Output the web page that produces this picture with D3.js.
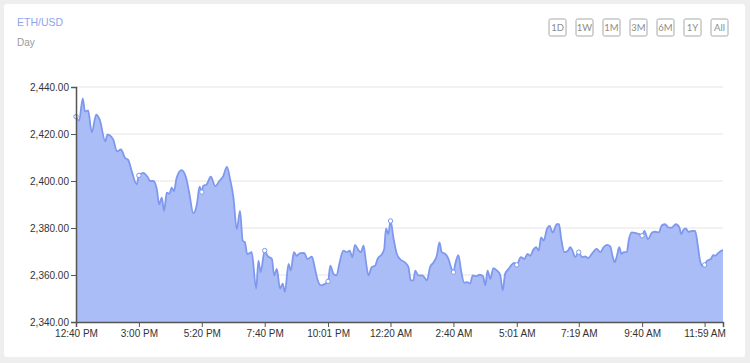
<!DOCTYPE html>
<html>
<head>
<meta charset="utf-8">
<script src="https://cdn.jsdelivr.net/npm/d3@7"></script>
<style>
  body { margin: 0; background: #eeeeee; font-family: "Liberation Sans", Arial, sans-serif; }
</style>
</head>
<body>
<svg id="chart" width="750" height="363"></svg>
<script>
// minutes after 12:40 PM and ETH/USD price at that time
var minutes = [
  0, 7, 15, 20, 27, 35, 45, 53, 65, 70,
  83, 91, 100, 109, 116, 124, 135, 140, 150, 159,
  165, 172, 180, 185, 191, 196, 202, 208, 213, 218,
  224, 235, 245, 252, 261, 269, 275, 280, 283, 291,
  300, 310, 319, 327, 336, 343, 350, 358, 365, 371,
  376, 381, 391, 401, 406, 411, 420, 426, 436, 441,
  447, 454, 460, 465, 473, 478, 485, 491, 499, 508,
  515, 525, 532, 537, 545, 552, 561, 566, 573, 580,
  586, 595, 603, 609, 615, 621, 629, 634, 640, 645,
  651, 658, 666, 671, 681, 686, 690, 695, 700, 707,
  714, 721, 733, 740, 745, 751, 755, 762, 770, 775,
  781, 788, 796, 803, 809, 814, 822, 829, 834, 840,
  844, 851, 857, 864, 871, 877, 883, 891, 898, 906,
  911, 916, 922, 929, 937, 944, 950, 955, 963, 968,
  975, 981, 990, 998, 1005, 1011, 1018, 1024, 1030, 1035,
  1041, 1048, 1054, 1061, 1070, 1075, 1080, 1087, 1095, 1100,
  1105, 1111, 1119, 1126, 1133, 1140, 1148, 1159, 1167, 1174,
  1182, 1189, 1194, 1199, 1204, 1209, 1214, 1219, 1226, 1230,
  1237, 1246, 1254, 1260, 1265, 1273, 1282, 1289, 1297, 1304,
  1311, 1319, 1326, 1335, 1343, 1347, 1352, 1357, 1363, 1371,
  1378, 1384, 1389, 1395, 1399, 1405, 1413, 1418, 1423, 1429,
  1437, 1440
];
var prices = [
  2427.4, 2425.7, 2435.2, 2429.6, 2430, 2420.7, 2428.2, 2426, 2416.9, 2419.7,
  2417.6, 2412.6, 2413.4, 2409.9, 2409, 2404.2, 2398.6, 2402.4, 2403.5, 2401.8,
  2400, 2400, 2396.4, 2390.1, 2392.9, 2387.3, 2395, 2394.6, 2397.2, 2395.7,
  2401.4, 2404.6, 2401.4, 2395, 2386.3, 2390, 2397.6, 2395.3, 2397.8, 2398.6,
  2401.8, 2397.8, 2400, 2401.8, 2406, 2400.7, 2393.6, 2379.5, 2387.3, 2374.6,
  2373.9, 2368.9, 2369.7, 2354.2, 2366.1, 2361.2, 2370.4, 2368.2, 2366.8, 2359.8,
  2362.6, 2354.2, 2356.3, 2352.8, 2364.7, 2361.9, 2369.7, 2368.2, 2369.3, 2369.4,
  2366.8, 2367.8, 2362.6, 2358.4, 2355.6, 2356, 2357.3, 2364, 2360.5, 2359.8,
  2364.7, 2370.4, 2369.7, 2370.4, 2367.6, 2372.8, 2370.4, 2369.7, 2372.5, 2366.1,
  2359.8, 2363.3, 2364, 2366.8, 2368.9, 2371.1, 2379.8, 2377.4, 2383, 2375.3,
  2369, 2366.8, 2365.2, 2363.3, 2357.7, 2357.7, 2361.9, 2359.8, 2359.8, 2359.1,
  2357.7, 2363.3, 2365.4, 2368.2, 2373.9, 2369.7, 2369, 2366.8, 2363.7, 2361.2,
  2364.7, 2368.5, 2361.9, 2356.7, 2357, 2356.3, 2359.8, 2359.5, 2360.1, 2359.5,
  2355.6, 2361.9, 2358.4, 2362.9, 2361.9, 2360.1, 2353.5, 2360.5, 2362.6, 2364,
  2365.2, 2364.3, 2367.6, 2366.8, 2369, 2368.2, 2370.8, 2371.8, 2370.4, 2376,
  2374.6, 2379.5, 2380.9, 2378.1, 2381.6, 2381.6, 2375.3, 2369.7, 2370.4, 2371.8,
  2370.4, 2367.6, 2369.7, 2367.6, 2367.9, 2367.2, 2369, 2371.1, 2369.7, 2371.8,
  2372.8, 2372.2, 2368.2, 2365.4, 2368.2, 2371.8, 2369, 2369.7, 2369.7, 2374.6,
  2378.1, 2377.8, 2377.4, 2376.7, 2378.8, 2375.3, 2378.1, 2378.4, 2378.1, 2381.2,
  2381.6, 2380.2, 2380.2, 2381.6, 2380.2, 2377.4, 2379.2, 2379.8, 2378.4, 2378.8,
  2378.8, 2372.5, 2366.1, 2363.7, 2364.3, 2366.1, 2366.8, 2368.5, 2368.2, 2369.3,
  2370.4, 2370.6
];
// x axis ticks (also the points with a marker)
var tickMinutes = [0, 140, 280, 420, 561, 700, 840, 981, 1119, 1260, 1399];
var yTicks = [2340, 2360, 2380, 2400, 2420, 2440];
var ranges = ["1D", "1W", "1M", "3M", "6M", "1Y", "All"];

var start = new Date(2021, 5, 1, 12, 40);
function toDate(m) { return new Date(start.getTime() + m * 60000); }

var data = minutes.map(function (m, i) {
    return { date: toDate(m), price: prices[i] };
});

var margin = { top: 87, right: 27, bottom: 41, left: 76 },
    width = 750 - margin.left - margin.right,
    height = 363 - margin.top - margin.bottom;

var svg = d3.select("#chart");

// card
svg.append("rect")
    .attr("x", 4).attr("y", 4)
    .attr("width", 741).attr("height", 353)
    .attr("rx", 3)
    .attr("fill", "#ffffff");

svg.append("text")
    .attr("x", 17).attr("y", 26)
    .attr("font-size", "10.5px")
    .attr("fill", "#8ea5ea")
    .text("ETH/USD");

svg.append("text")
    .attr("x", 17).attr("y", 46)
    .attr("font-size", "10px")
    .attr("fill", "#9a9a9a")
    .text("Day");

// range buttons
var btn = svg.selectAll(".btn")
    .data(ranges)
    .enter()
    .append("g")
    .attr("class", "btn")
    .attr("transform", function (d, i) { return "translate(" + (549 + i * 27) + ",19)"; });
btn.append("rect")
    .attr("width", 17).attr("height", 17)
    .attr("rx", 1.5)
    .attr("fill", "#fff")
    .attr("stroke", "#a8a8a8");
btn.append("text")
    .attr("x", 8.5).attr("y", 12)
    .attr("text-anchor", "middle")
    .attr("font-family", "Lato, 'Open Sans', sans-serif")
    .attr("font-size", "9.5px")
    .attr("fill", "#8c8c8c")
    .text(function (d) { return d; });

var g = svg.append("g")
    .attr("transform", "translate(" + margin.left + "," + margin.top + ")");

var x = d3.scaleTime()
    .domain([toDate(0), toDate(1440)])
    .range([0, width]);

var y = d3.scaleLinear()
    .domain([2340, 2440])
    .range([height, 0]);

// grid
g.selectAll(".grid")
    .data(yTicks.slice(1))
    .enter()
    .append("line")
    .attr("class", "grid")
    .attr("x1", 0).attr("x2", width)
    .attr("y1", function (d) { return y(d); })
    .attr("y2", function (d) { return y(d); })
    .attr("stroke", "#e5e5e5");

var area = d3.area()
    .x(function (d) { return x(d.date); })
    .y0(height)
    .y1(function (d) { return y(d.price); })
    .curve(d3.curveMonotoneX);

var line = d3.line()
    .x(function (d) { return x(d.date); })
    .y(function (d) { return y(d.price); })
    .curve(d3.curveMonotoneX);

g.append("path")
    .datum(data)
    .attr("d", area)
    .attr("fill", "#abbdf6");

g.append("path")
    .datum(data)
    .attr("d", line)
    .attr("fill", "none")
    .attr("stroke", "#7e98ee")
    .attr("stroke-width", 1.8);

// markers at tick times
var marked = data.filter(function (d, i) { return tickMinutes.indexOf(minutes[i]) >= 0; });
g.selectAll(".dot")
    .data(marked)
    .enter()
    .append("circle")
    .attr("class", "dot")
    .attr("cx", function (d) { return x(d.date); })
    .attr("cy", function (d) { return y(d.price); })
    .attr("r", 2.2)
    .attr("fill", "#fff")
    .attr("stroke", "#7e98ee")
    .attr("stroke-width", 1);

// axes
var xAxis = g.append("g")
    .attr("transform", "translate(0," + height + ")")
    .call(d3.axisBottom(x)
        .tickValues(tickMinutes.map(toDate))
        .tickFormat(d3.timeFormat("%-I:%M %p"))
        .tickSizeOuter(0)
        .tickSize(5));

var yAxis = g.append("g")
    .call(d3.axisLeft(y)
        .tickValues(yTicks)
        .tickFormat(d3.format(",.2f"))
        .tickSizeOuter(0)
        .tickSize(5));

[xAxis, yAxis].forEach(function (a) {
    a.select(".domain").attr("stroke", "#555").attr("stroke-width", 1.5);
    a.selectAll(".tick line").attr("stroke", "#555");
    a.selectAll(".tick text")
        .attr("font-family", "'Liberation Sans', Arial, sans-serif")
        .attr("font-size", "10px")
        .attr("fill", "#333");
});
yAxis.selectAll(".tick text").attr("x", -7);
xAxis.selectAll(".tick text").attr("y", 8);
</script>
</body>
</html>
